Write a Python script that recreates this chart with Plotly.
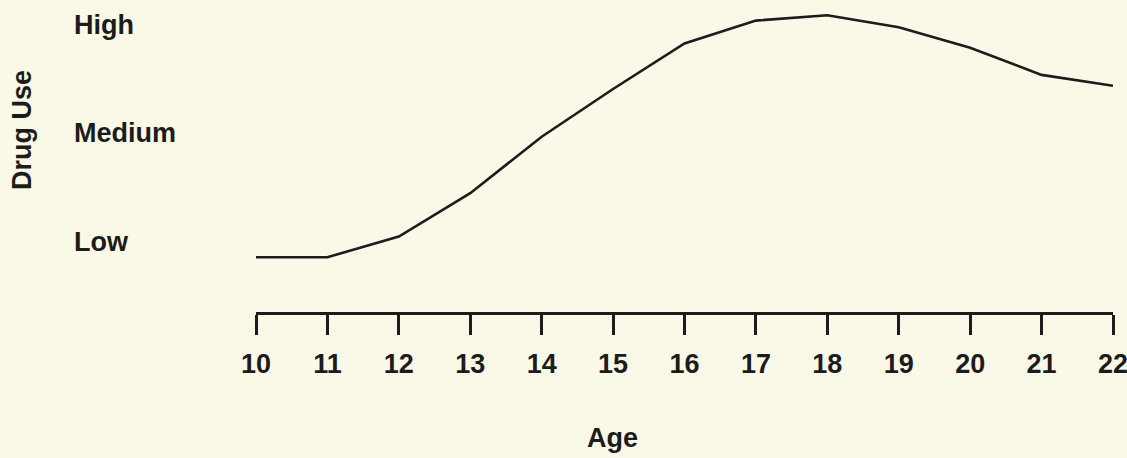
import plotly.graph_objects as go

ages = [10, 11, 12, 13, 14, 15, 16, 17, 18, 19, 20, 21, 22]
drug_use = [0.86, 0.86, 1.05, 1.45, 1.97, 2.41, 2.83, 3.04, 3.09, 2.98, 2.79, 2.54, 2.44]
level_vals = [1, 2, 3]
level_text = ["Low", "Medium", "High"]

W, H = 1127, 458
ml, mr, mt, mb = 256, 14, 10, 146
ink = "#1c1c1c"
bg = "#faf8e6"
font = "Liberation Sans, Arial, sans-serif"

fig = go.Figure()
fig.add_trace(go.Scatter(x=ages, y=drug_use, mode="lines",
                         line=dict(color=ink, width=2.6), hoverinfo="skip"))

annotations = []
for v, t in zip(level_vals, level_text):
    annotations.append(dict(x=(72 - ml) / (W - ml - mr), xref="paper", y=v, yref="y",
                            text=t, showarrow=False, xanchor="left", yanchor="middle",
                            font=dict(family=font, size=27, color=ink, weight="bold")))
annotations.append(dict(x=(22 - ml) / (W - ml - mr), xref="paper",
                        y=1 - (130 - mt) / (H - mt - mb), yref="paper",
                        text="Drug Use", textangle=-90, showarrow=False,
                        xanchor="center", yanchor="middle",
                        font=dict(family=font, size=27, color=ink, weight="bold")))
annotations.append(dict(x=(612 - ml) / (W - ml - mr), xref="paper",
                        y=1 - (438 - mt) / (H - mt - mb), yref="paper",
                        text="Age", showarrow=False, xanchor="center", yanchor="middle",
                        font=dict(family=font, size=27, color=ink, weight="bold")))

fig.update_layout(
    width=W, height=H,
    margin=dict(l=ml, r=mr, t=mt, b=mb, autoexpand=False),
    paper_bgcolor=bg, plot_bgcolor=bg,
    showlegend=False,
    annotations=annotations,
    xaxis=dict(range=[10, 22], tickvals=ages, ticktext=[str(a) for a in ages],
               showline=True, linecolor=ink, linewidth=2.6,
               ticks="outside", ticklen=20, tickwidth=2.6, tickcolor=ink,
               ticklabelstandoff=6, ticklabeloverflow="allow", automargin=False,
               showgrid=False, zeroline=False,
               tickfont=dict(family=font, size=27, color=ink, weight="bold")),
    yaxis=dict(range=[0.355, 3.138], showgrid=False, zeroline=False,
               showticklabels=False, showline=False, ticks=""),
)

fig.write_html("out.html", config={"displayModeBar": False},
               post_script="document.body.style.margin='0';document.body.style.background='%s';" % bg)
